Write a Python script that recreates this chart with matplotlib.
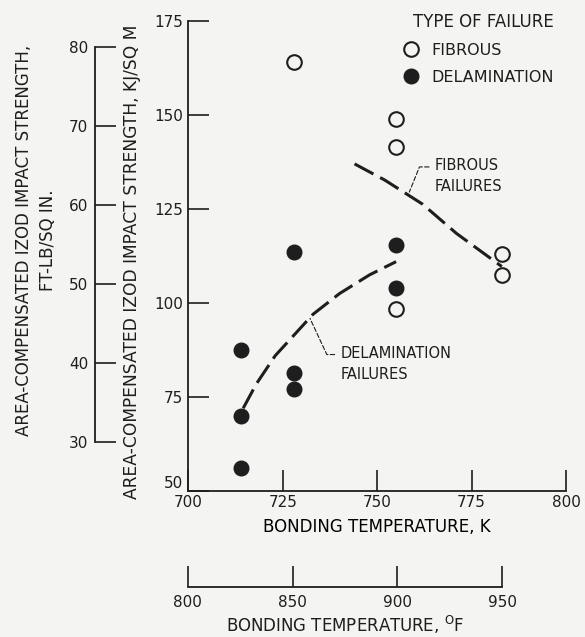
import matplotlib
matplotlib.use("Agg")
import matplotlib.pyplot as plt

# Impact strength vs bonding temperature
fib_temp = [728, 755, 755, 755, 783, 783]
fib_str = [164, 149, 141.5, 98.5, 113, 107.5]

delam_temp = [714, 714, 714, 728, 728, 728, 755, 755]
delam_str = [87.5, 70, 56, 113.5, 81.5, 77, 115.5, 104]

# hand-drawn trend curves
fib_curve_t = [744, 752, 762, 771, 783]
fib_curve_s = [137, 132.7, 126.3, 118.5, 109.7]
delam_curve_t = [714.5, 718, 723, 728, 733, 740, 748, 755]
delam_curve_s = [72, 78.5, 86, 91.5, 97, 102.5, 107.5, 111]

k_ticks = [700, 725, 750, 775, 800]
kj_ticks = [50, 75, 100, 125, 150, 175]
f_ticks = [800, 850, 900, 950]
ft_ticks = [30, 40, 50, 60, 70, 80]

INK = "#1e1e1e"
BG = "#f4f4f2"


def k2f(k):
    return (k - 273.15) * 9 / 5 + 32


def f2k(f):
    return (f - 32) * 5 / 9 + 273.15


def kj2ft(v):
    return v / 2.1015


def ft2kj(v):
    return v * 2.1015


plt.rcParams['font.family'] = ['DejaVu Sans']
plt.rcParams['text.color'] = INK
plt.rcParams['axes.edgecolor'] = INK
plt.rcParams['xtick.color'] = INK
plt.rcParams['ytick.color'] = INK

fig = plt.figure(figsize=(5.85, 6.37), dpi=100, facecolor=BG)
ax = fig.add_axes([0.3209, 0.2292, 0.6466, 0.7378])
ax.set_facecolor("none")

# start a hair below 700 K so the 800 F tick still lands on the lower scale
ax.set_xlim(f2k(f_ticks[0]), 800)
ax.set_ylim(50, 175)
ax.set_xticks(k_ticks)
ax.set_yticks(kj_ticks)
ax.spines[['top', 'right']].set_visible(False)
for s in ['left', 'bottom']:
    ax.spines[s].set_linewidth(1.3)
ax.tick_params(direction='in', length=15, width=1.2, labelsize=11)
ax.tick_params(axis='y', pad=3.5)
ax.tick_params(axis='x', pad=3)
# lift the "50" so it clears the "700"
ax.get_yticklabels()[0].set_verticalalignment('bottom')

# data points
ax.plot(fib_temp, fib_str, ls='none', marker='o', ms=10.5, mfc='none',
        mec=INK, mew=1.5, label='FIBROUS')
ax.plot(delam_temp, delam_str, ls='none', marker='o', ms=10.5, mfc=INK,
        mec=INK, label='DELAMINATION')

# trend curves
ax.plot(fib_curve_t, fib_curve_s, color=INK, lw=2.2, dashes=(7, 2.5))
ax.plot(delam_curve_t, delam_curve_s, color=INK, lw=2.2, dashes=(7, 2.5))

leader = dict(arrowstyle='-', color=INK, lw=0.8, ls=(0, (4, 2)),
              shrinkA=2, shrinkB=0, relpos=(0, 0.75))
ax.annotate('FIBROUS\nFAILURES', xy=(758.5, 129.5), xytext=(765.2, 133.8),
            ha='left', va='center', fontsize=10.5, linespacing=1.5,
            arrowprops=dict(connectionstyle='angle,angleA=0,angleB=68,rad=0', **leader))
ax.annotate('DELAMINATION\nFAILURES', xy=(732.2, 95.9), xytext=(740.2, 83.9),
            ha='left', va='center', fontsize=10.5, linespacing=1.5,
            arrowprops=dict(connectionstyle='angle,angleA=0,angleB=115,rad=0', **leader))

leg = ax.legend(loc='upper left', bbox_to_anchor=(0.574, 1.018), frameon=False,
                title='TYPE OF FAILURE', fontsize=11.5, title_fontsize=12,
                alignment='right', borderpad=0, borderaxespad=0,
                handlelength=0.8, handletextpad=0.85, labelspacing=0.75)

ax.set_xlabel('BONDING TEMPERATURE, K', fontsize=12, labelpad=6)

# degrees F scale below
secx = ax.secondary_xaxis(-0.2036, functions=(k2f, f2k))
secx.set_xticks(f_ticks)
secx.spines['bottom'].set_bounds(800, 950)
secx.spines['bottom'].set_linewidth(1.3)
secx.tick_params(direction='in', length=15, width=1.2, labelsize=11, pad=6)
fig.text(0.590, 0.0188, r'BONDING TEMPERATURE, $^{\mathrm{O}}$F',
         ha='center', va='center', fontsize=12)

# ft-lb/sq in scale at left
secy = ax.secondary_yaxis(-0.245, functions=(kj2ft, ft2kj))
secy.set_yticks(ft_ticks)
secy.spines['left'].set_bounds(30, 80)
secy.spines['left'].set_linewidth(1.3)
secy.tick_params(direction='in', length=15, width=1.2, labelsize=11, pad=5)

fig.text(0.225, 0.589, 'AREA-COMPENSATED IZOD IMPACT STRENGTH, KJ/SQ M',
         rotation=90, ha='center', va='center', fontsize=12.3)
fig.text(0.0615, 0.623, 'AREA-COMPENSATED IZOD IMPACT STRENGTH,\nFT-LB/SQ IN.',
         rotation=90, ha='center', va='center', multialignment='center',
         fontsize=12, linespacing=1.45)

fig.savefig('out.png', dpi=100, facecolor=BG)
